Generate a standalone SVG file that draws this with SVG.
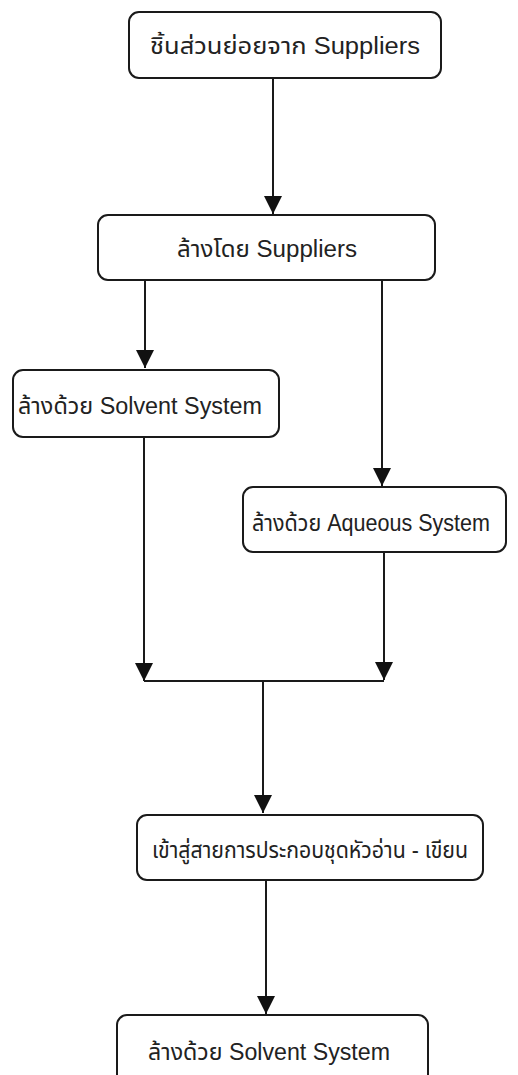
<svg xmlns="http://www.w3.org/2000/svg" width="518" height="1075" viewBox="0 0 518 1075">
<style>
.box{fill:#fff;stroke:#1a1a1a;stroke-width:2}
.t{font-family:"Liberation Sans","Noto Sans Thai","Noto Sans",sans-serif;font-size:23px;fill:#222;text-anchor:middle;dominant-baseline:central}
.ln{fill:none;stroke:#1a1a1a;stroke-width:2}
</style>
<defs>
<marker id="ar" markerWidth="18" markerHeight="18" viewBox="0 0 18 18" refX="18" refY="9" orient="auto" markerUnits="userSpaceOnUse">
<path d="M0,0 L18,9 L0,18 Z" fill="#111"/>
</marker>
</defs>
<rect width="518" height="1075" fill="#fff"/>
<g id="connectors">
<line class="ln" x1="273" y1="79" x2="273" y2="214" marker-end="url(#ar)"/>
<line class="ln" x1="145" y1="281" x2="145" y2="368" marker-end="url(#ar)"/>
<line class="ln" x1="382" y1="281" x2="382" y2="486" marker-end="url(#ar)"/>
<line class="ln" x1="144" y1="437" x2="144" y2="681" marker-end="url(#ar)"/>
<line class="ln" x1="384" y1="553" x2="384" y2="680" marker-end="url(#ar)"/>
<line class="ln" x1="144" y1="681" x2="384" y2="681"/>
<line class="ln" x1="263" y1="681" x2="263" y2="813" marker-end="url(#ar)"/>
<line class="ln" x1="266" y1="881" x2="266" y2="1014" marker-end="url(#ar)"/>
</g>
<g id="n1"><rect class="box" x="129" y="12" width="312" height="66" rx="10"/><text class="t" x="285" y="46" textLength="270" lengthAdjust="spacingAndGlyphs">ชิ้นส่วนย่อยจาก Suppliers</text></g>
<g id="n2"><rect class="box" x="98" y="215" width="337" height="65" rx="10"/><text class="t" x="267" y="249" textLength="180" lengthAdjust="spacingAndGlyphs">ล้างโดย Suppliers</text></g>
<g id="n3"><rect class="box" x="13" y="370" width="266" height="67" rx="10"/><text class="t" x="140" y="406" textLength="244" lengthAdjust="spacingAndGlyphs">ล้างด้วย Solvent System</text></g>
<g id="n4"><rect class="box" x="243" y="487" width="263" height="65" rx="10"/><text class="t" x="371" y="523" textLength="238" lengthAdjust="spacingAndGlyphs">ล้างด้วย Aqueous System</text></g>
<g id="n5"><rect class="box" x="137" y="815" width="346" height="65" rx="10"/><text class="t" x="310" y="850" textLength="316" lengthAdjust="spacingAndGlyphs">เข้าสู่สายการประกอบชุดหัวอ่าน - เขียน</text></g>
<g id="n6"><rect class="box" x="117" y="1015" width="311" height="80" rx="10"/><text class="t" x="269" y="1052" textLength="242" lengthAdjust="spacingAndGlyphs">ล้างด้วย  Solvent System</text></g>
</svg>
